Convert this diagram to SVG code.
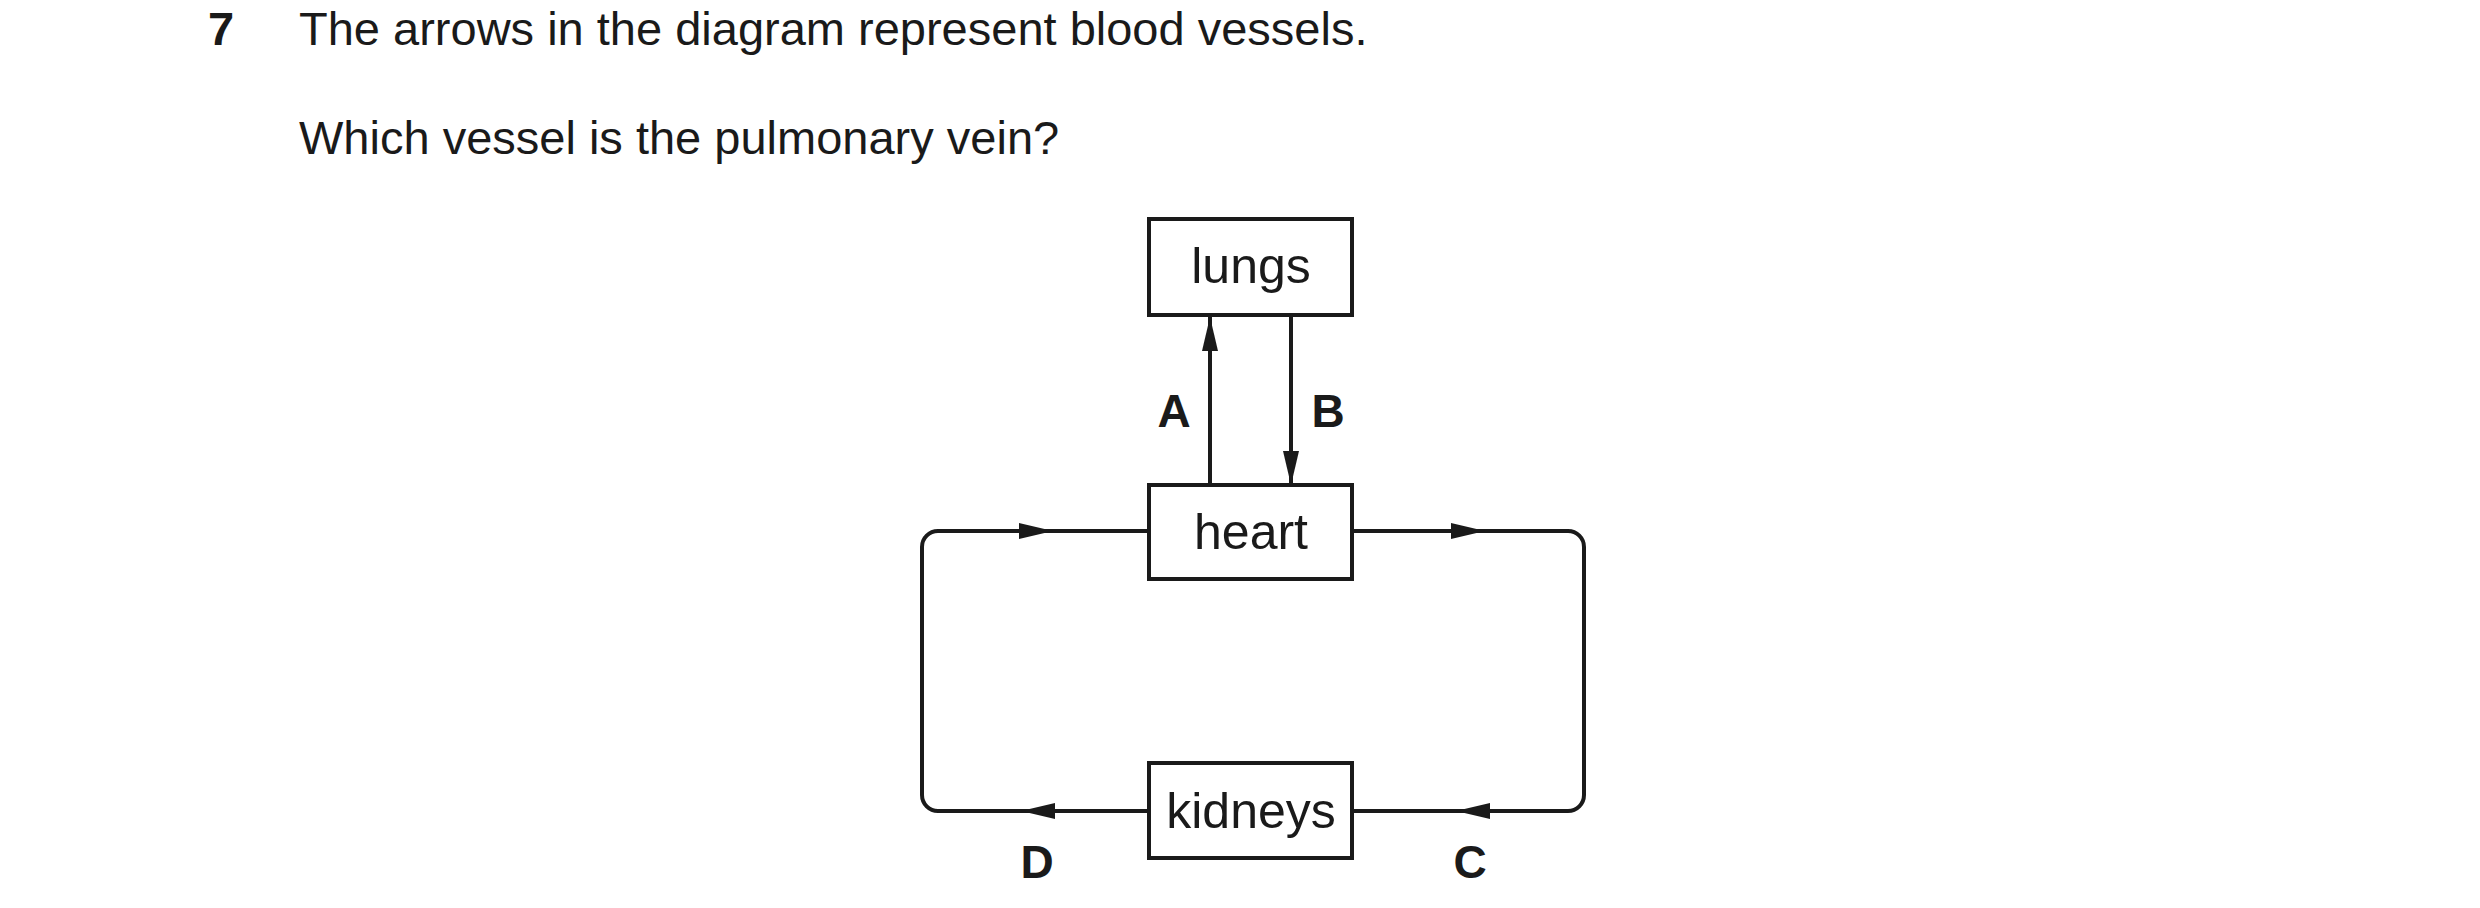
<svg xmlns="http://www.w3.org/2000/svg" width="2480" height="908" viewBox="0 0 2480 908">
<style>
text{font-family:"Liberation Sans",Arial,sans-serif;fill:#1a1a1a}
.q{font-size:47px}
.n{font-size:50px;text-anchor:middle}
.l{font-size:46px;font-weight:bold;text-anchor:middle}
rect{fill:#fff;stroke:#1a1a1a;stroke-width:4}
.c{fill:none;stroke:#1a1a1a;stroke-width:4}
</style>
<defs>
<marker id="ah" viewBox="0 0 10 10" refX="10" refY="5" markerWidth="34" markerHeight="16" markerUnits="userSpaceOnUse" orient="auto" preserveAspectRatio="none"><path d="M0,0L10,5L0,10z" fill="#1a1a1a"/></marker>
</defs>
<text class="q" x="208" y="45" font-weight="bold">7</text>
<text class="q" x="299" y="45">The arrows in the diagram represent blood vessels.</text>
<text class="q" x="299" y="154">Which vessel is the pulmonary vein?</text>
<g id="connectors">
<line class="c" x1="1210" y1="485" x2="1210" y2="317" marker-end="url(#ah)"/>
<line class="c" x1="1291" y1="317" x2="1291" y2="485" marker-end="url(#ah)"/>
<path class="c" d="M1149,531H938a16,16 0 0 0 -16,16V795a16,16 0 0 0 16,16H1149"/>
<line class="c" x1="940" y1="531" x2="1053" y2="531" marker-end="url(#ah)"/>
<line class="c" x1="1149" y1="811" x2="1021" y2="811" marker-end="url(#ah)"/>
<path class="c" d="M1352,531H1568a16,16 0 0 1 16,16V795a16,16 0 0 1 -16,16H1352"/>
<line class="c" x1="1352" y1="531" x2="1485" y2="531" marker-end="url(#ah)"/>
<line class="c" x1="1566" y1="811" x2="1456" y2="811" marker-end="url(#ah)"/>
</g>
<text class="l" x="1174" y="427">A</text>
<text class="l" x="1328" y="427">B</text>
<text class="l" x="1037" y="878">D</text>
<text class="l" x="1470" y="878">C</text>
<g id="lungs"><rect x="1149" y="219" width="203" height="96"/><text class="n" x="1251" y="283">lungs</text></g>
<g id="heart"><rect x="1149" y="485" width="203" height="94"/><text class="n" x="1251" y="549">heart</text></g>
<g id="kidneys"><rect x="1149" y="763" width="203" height="95"/><text class="n" x="1251" y="828">kidneys</text></g>
</svg>
